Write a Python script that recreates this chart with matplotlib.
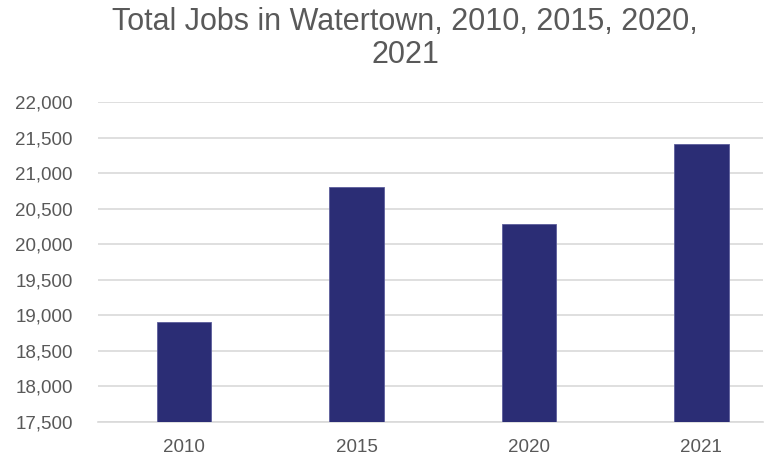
import matplotlib.pyplot as plt
from matplotlib.ticker import FuncFormatter, MultipleLocator

years = ['2010', '2015', '2020', '2021']
jobs = [18907, 20798, 20286, 21416]

plt.rcParams['font.family'] = ['Liberation Sans', 'DejaVu Sans']

fig = plt.figure(figsize=(7.70, 4.58), dpi=100)
ax = fig.add_axes([98 / 770, 1 - 422 / 458, (763 - 98) / 770, (422 - 102) / 458])

ax.bar(range(len(years)), jobs, width=0.315, color='#2b2d75',
       edgecolor='#5c5e9c', linewidth=0.6, zorder=3)

ax.set_ylim(17500, 22000)
ax.set_xlim(-0.4986, 3.357)
ax.yaxis.set_major_locator(MultipleLocator(500))
ax.yaxis.set_major_formatter(FuncFormatter(lambda v, p: f'{int(v):,}'))
ax.set_xticks(range(len(years)))
ax.set_xticklabels(years)

ax.grid(axis='y', color='#d9d9d9', linewidth=1.2, zorder=0)
for s in ['top', 'right', 'left']:
    ax.spines[s].set_visible(False)
ax.spines['bottom'].set_color('#d9d9d9')
ax.spines['bottom'].set_linewidth(1.2)

ax.tick_params(axis='both', length=0, labelsize=13.5, colors='#595959')
ax.tick_params(axis='y', pad=18)
ax.tick_params(axis='x', pad=12)

fig.text(0.526, 0.916, 'Total Jobs in Watertown, 2010, 2015, 2020,\n2021',
         ha='center', va='center', fontsize=22, color='#595959',
         linespacing=1.15)

fig.savefig('out.png', dpi=100)
